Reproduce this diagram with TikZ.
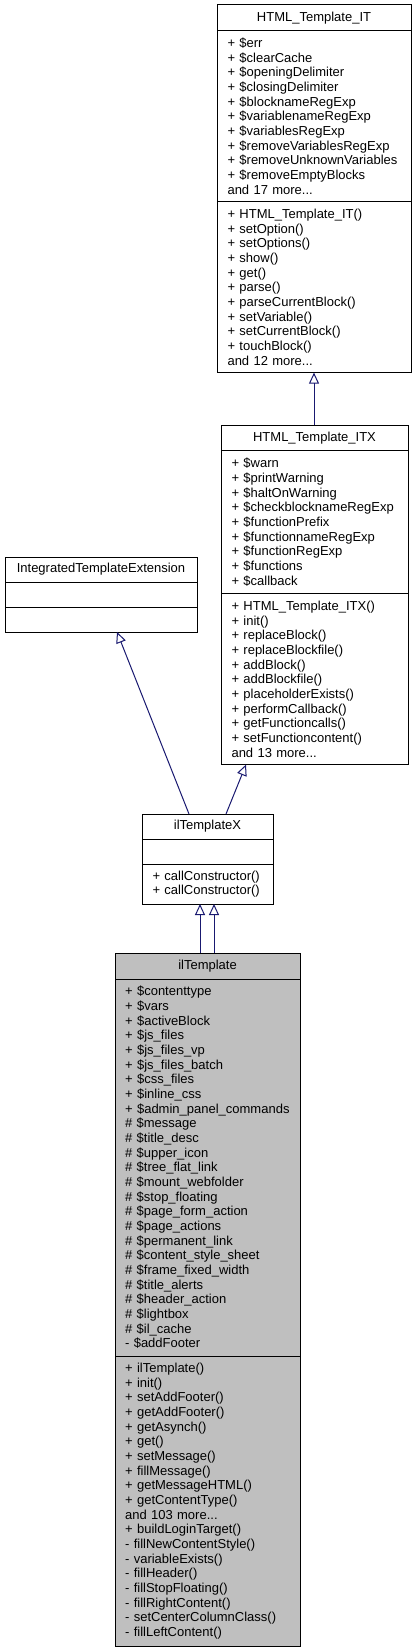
\documentclass[tikz,border=0pt]{standalone}
\usepackage{fontspec}
\setmainfont{Liberation Sans}
\usepackage{tikz}
\usetikzlibrary{arrows.meta, positioning}

\definecolor{edgeblue}{RGB}{25,25,112}
\definecolor{grayfill}{RGB}{191,191,191}
\newcommand{\clsfont}{\fontsize{9.75}{11}\selectfont\hyphenpenalty=10000\exhyphenpenalty=10000}

\tikzset{
  cpart/.style={draw=black, line width=0.75pt, rectangle, anchor=north west,
    inner xsep=7.9pt, inner ysep=0pt, outer sep=0pt, align=left, font=\clsfont},
  ctitle/.style={cpart, align=center, minimum height=19.2pt},
  inh/.style={draw=edgeblue, line width=0.75pt,
    -{Triangle[open, length=8.25pt, width=7.5pt]}}
}

\begin{document}
\begin{tikzpicture}[x=0.75pt,y=0.75pt,yscale=-1,xscale=1]
\useasboundingbox (0,0) rectangle (417,1652);

% HTML_Template_IT
\node [ctitle, text width=129.7pt] (itT) at (217,5) {HTML\_Template\_IT};
\node [cpart, text width=129.7pt, minimum height=128.25pt] (itA) at (itT.south west) {+ \$err\\+ \$clearCache\\+ \$openingDelimiter\\+ \$closingDelimiter\\+ \$blocknameRegExp\\+ \$variablenameRegExp\\+ \$variablesRegExp\\+ \$removeVariablesRegExp\\+ \$removeUnknownVariables\\+ \$removeEmptyBlocks\\and 17 more...};
\node [cpart, text width=129.7pt, minimum height=128.25pt] (itM) at (itA.south west) {+ HTML\_Template\_IT()\\+ setOption()\\+ setOptions()\\+ show()\\+ get()\\+ parse()\\+ parseCurrentBlock()\\+ setVariable()\\+ setCurrentBlock()\\+ touchBlock()\\and 12 more...};

% HTML_Template_ITX
\node [ctitle, text width=124.45pt] (itxT) at (221,425) {HTML\_Template\_ITX};
\node [cpart, text width=124.45pt, minimum height=107.25pt] (itxA) at (itxT.south west) {+ \$warn\\+ \$printWarning\\+ \$haltOnWarning\\+ \$checkblocknameRegExp\\+ \$functionPrefix\\+ \$functionnameRegExp\\+ \$functionRegExp\\+ \$functions\\+ \$callback};
\node [cpart, text width=124.45pt, minimum height=128.25pt] (itxM) at (itxA.south west) {+ HTML\_Template\_ITX()\\+ init()\\+ replaceBlock()\\+ replaceBlockfile()\\+ addBlock()\\+ addBlockfile()\\+ placeholderExists()\\+ performCallback()\\+ getFunctioncalls()\\+ setFunctioncontent()\\and 13 more...};

% IntegratedTemplateExtension
\node [ctitle, text width=128.2pt, minimum height=18.75pt] (iteT) at (5,557) {IntegratedTemplateExtension};
\node [cpart, text width=128.2pt, minimum height=18.75pt] (iteA) at (iteT.south west) {};
\node [cpart, text width=128.2pt, minimum height=18.75pt] (iteM) at (iteA.south west) {};

% ilTemplateX
\node [ctitle, text width=82.45pt, minimum height=18.75pt] (tplxT) at (142,814) {ilTemplateX};
\node [cpart, text width=82.45pt, minimum height=18.75pt] (tplxA) at (tplxT.south west) {};
\node [cpart, text width=82.45pt, minimum height=30pt] (tplxM) at (tplxA.south west) {+ callConstructor()\\+ callConstructor()};

% ilTemplate
\node [ctitle, fill=grayfill, inner xsep=7.6pt, text width=123.6pt, minimum height=19.5pt] (tplT) at (115,953) {ilTemplate};
\node [cpart, fill=grayfill, inner xsep=7.6pt, text width=123.6pt, minimum height=282.75pt] (tplA) at (tplT.south west) {+ \$contenttype\\+ \$vars\\+ \$activeBlock\\+ \$js\_files\\+ \$js\_files\_vp\\+ \$js\_files\_batch\\+ \$css\_files\\+ \$inline\_css\\+~\$admin\_panel\_commands\\\# \$message\\\# \$title\_desc\\\# \$upper\_icon\\\# \$tree\_flat\_link\\\# \$mount\_webfolder\\\# \$stop\_floating\\\# \$page\_form\_action\\\# \$page\_actions\\\# \$permanent\_link\\\# \$content\_style\_sheet\\\# \$frame\_fixed\_width\\\# \$title\_alerts\\\# \$header\_action\\\# \$lightbox\\\# \$il\_cache\\- \$addFooter};
\node [cpart, fill=grayfill, inner xsep=7.6pt, text width=123.6pt, minimum height=217.5pt] (tplM) at (tplA.south west) {+ ilTemplate()\\+ init()\\+ setAddFooter()\\+ getAddFooter()\\+ getAsynch()\\+ get()\\+ setMessage()\\+ fillMessage()\\+ getMessageHTML()\\+ getContentType()\\and 103 more...\\+ buildLoginTarget()\\- fillNewContentStyle()\\- variableExists()\\- fillHeader()\\- fillStopFloating()\\- fillRightContent()\\- setCenterColumnClass()\\- fillLeftContent()};

% inheritance
\draw [inh] (314,0 |- itxT.north) -- (314,0 |- itM.south);
\draw [inh] (189,0 |- tplxT.north) -- (117,0 |- iteM.south);
\draw [inh] (226,0 |- tplxT.north) -- (246,0 |- itxM.south);
\draw [inh] (200,0 |- tplT.north) -- (200,0 |- tplxM.south);
\draw [inh] (214,0 |- tplT.north) -- (214,0 |- tplxM.south);
\end{tikzpicture}
\end{document}
